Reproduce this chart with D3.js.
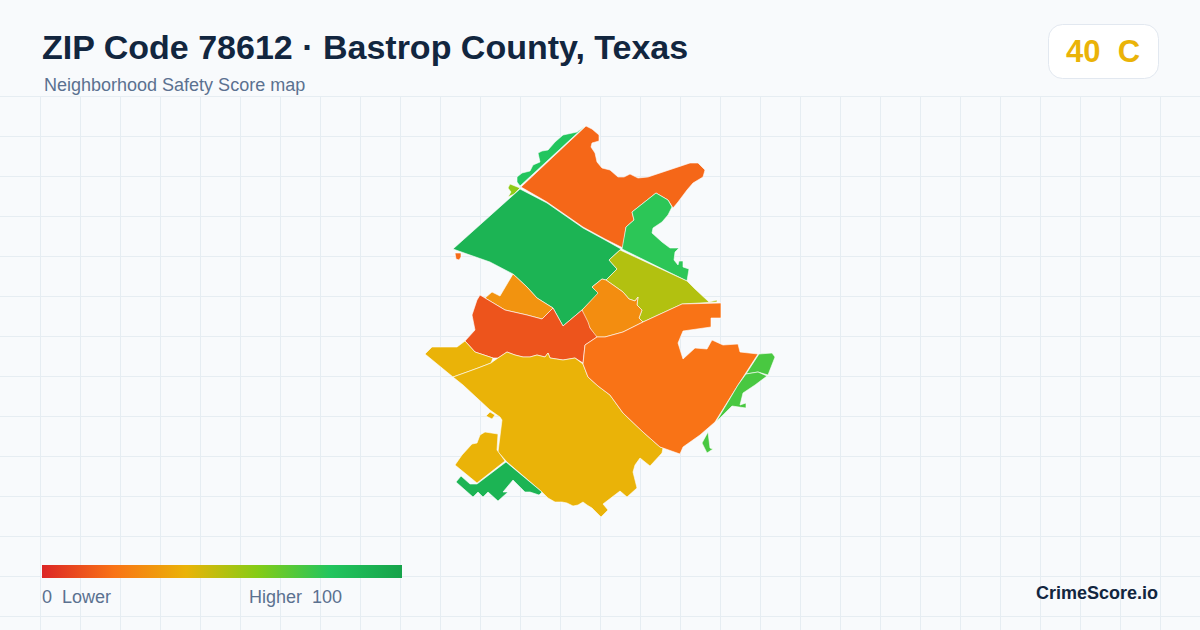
<!DOCTYPE html>
<html>
<head>
<meta charset="utf-8">
<title>ZIP Code 78612</title>
<script src="https://cdn.jsdelivr.net/npm/d3@7"></script>
<style>
  html, body { margin: 0; padding: 0; background: #f8fafc; }
  svg { display: block; font-family: "Liberation Sans", Arial, sans-serif; }
  text { white-space: pre; }
</style>
</head>
<body>
<div id="chart"></div>
<script>
// Labels
const titleText = "ZIP Code 78612 · Bastrop County, Texas";
const subtitleText = "Neighborhood Safety Score map";
const scoreText = "40  C";
const brandText = "CrimeScore.io";
const legendLow = "0  Lower";
const legendHigh = "Higher  100";

// Color ramp for the score
const rampStops = [0, 20, 40, 60, 80, 100];
const rampColors = ["#dc2626", "#f97316", "#eab308", "#84cc16", "#22c55e", "#16a34a"];

// Neighborhood scores, same order as the outlines below
const neighborhoodScores = [17, 80, 58, 90, 78, 51, 28, 30, 12, 40, 40, 40, 40, 90, 20, 72, 72, 72, 18];

const neOrange = [[586,126],[592,129],[599,135],[599,141],[592,143],[591,147],[595,153],[597,162],[602,168],[610,170],[618,177],[624,177],[630,174],[638,178],[648,177],[660,173],[690,163],[698,163],[705,170],[703,177],[693,183],[687,190],[678,202],[673,208],[668,200],[656,193],[632,212],[634,220],[626,227],[623,248],[605,239],[583,227],[547,202],[521,187]];
const northStrip = [[585,126],[520,186],[517,182],[517,177],[522,173],[530,171],[533,165],[540,162],[538,153],[542,151],[548,150],[555,142],[563,135],[577,132]];
const limeBit = [[510,184],[520,188],[514,194],[508,197],[511,192],[508,188]];
const bigGreen = [[520,189],[547,203],[583,228],[605,240],[621,249],[609,260],[617,269],[606,280],[602,279],[592,287],[599,293],[582,310],[563,326],[553,308],[537,298],[527,287],[513,274],[490,262],[470,255],[453,249]];
const neGreen = [[656,193],[668,200],[672,207],[668,215],[662,222],[653,228],[652,233],[662,242],[670,248],[679,248],[675,252],[674,260],[678,265],[679,261],[683,261],[683,267],[689,269],[687,281],[622,249],[626,227],[634,220],[632,212]];
const olive = [[620,250],[687,281],[695,289],[709,302],[717,300],[717,302],[682,304],[643,322],[639,318],[642,310],[637,305],[638,297],[635,301],[629,299],[623,292],[606,280],[617,269],[609,260]];
const centerAmber = [[602,279],[606,280],[623,292],[629,299],[635,301],[638,297],[637,305],[642,310],[639,318],[643,322],[623,332],[605,337],[595,337],[590,328],[583,320],[582,310],[598,293],[592,287]];
const northAmber = [[513,274],[527,287],[537,298],[553,308],[542,319],[527,315],[505,310],[485,298],[492,292],[500,296]];
const centralRed = [[480,295],[485,298],[505,310],[527,315],[542,319],[553,308],[563,326],[582,310],[588,322],[590,328],[597,337],[585,345],[583,363],[575,358],[563,360],[550,358],[548,353],[545,357],[537,355],[530,357],[523,357],[515,355],[507,352],[498,358],[493,358],[475,352],[465,341],[475,330],[472,315],[477,300]];
const westAmber = [[465,341],[475,352],[493,358],[491,363],[478,368],[467,372],[453,377],[425,354],[432,347],[457,347]];
const southAmber = [[453,377],[467,372],[478,368],[491,363],[498,358],[507,352],[515,355],[523,357],[530,357],[537,355],[545,357],[548,353],[550,358],[563,360],[575,358],[583,364],[588,377],[598,386],[610,395],[623,413],[643,432],[660,447],[663,448],[662,453],[650,466],[640,458],[635,465],[633,472],[637,488],[627,497],[620,491],[603,504],[608,510],[601,517],[592,508],[587,505],[583,502],[578,505],[573,506],[567,503],[562,502],[555,502],[548,498],[542,492],[507,462],[498,452],[502,420],[500,417],[490,410],[463,385]];
const amberBit = [[490,412],[495,415],[492,419],[486,416]];
const swAmber = [[480,435],[485,432],[498,434],[497,450],[505,461],[477,483],[455,465],[462,455],[472,444],[477,443]];
const swGreen = [[506,462],[542,492],[539,495],[530,492],[525,492],[513,480],[503,492],[508,492],[498,501],[488,492],[483,497],[478,492],[473,497],[456,482],[461,476],[470,484],[477,484]];
const seOrange = [[682,304],[721,303],[721,318],[711,318],[711,327],[683,331],[678,343],[683,359],[695,348],[707,349],[712,340],[723,345],[738,344],[740,352],[758,354],[738,385],[715,422],[700,435],[683,447],[680,454],[663,448],[660,447],[643,432],[623,413],[610,395],[598,386],[588,377],[583,364],[585,345],[597,337],[605,337],[623,332],[643,322]];
const eastGreenTop = [[759,354],[772,353],[775,357],[768,375],[758,372],[746,374]];
const eastGreenMid = [[746,374],[758,372],[767,376],[755,385],[743,393],[740,405],[746,403],[746,408],[732,406],[716,422],[738,385]];
const eastGreenLow = [[708,432],[710,448],[713,449],[707,453],[702,443]];
const orangeDot = [[455,253],[461,253],[461,257],[459,260],[456,259]];

const outlines = [neOrange, northStrip, limeBit, bigGreen, neGreen, olive, centerAmber, northAmber, centralRed,
    westAmber, southAmber, amberBit, swAmber, swGreen, seOrange, eastGreenTop, eastGreenMid, eastGreenLow, orangeDot];

const width = 1200;
const height = 630;

const svg = d3.select("#chart").append("svg")
    .attr("width", width)
    .attr("height", height)
    .attr("viewBox", [0, 0, width, height]);

svg.append("rect")
    .attr("width", width)
    .attr("height", height)
    .attr("fill", "#f8fafc");

// Background grid
const gridTop = 96;
const grid = svg.append("g")
    .attr("stroke", "#e6edf2")
    .attr("stroke-width", 1);

grid.selectAll("line.v")
  .data(d3.range(40, width, 40))
  .join("line")
    .attr("class", "v")
    .attr("x1", d => d + 0.5)
    .attr("x2", d => d + 0.5)
    .attr("y1", gridTop)
    .attr("y2", height);

grid.selectAll("line.h")
  .data(d3.range(gridTop, height, 40))
  .join("line")
    .attr("class", "h")
    .attr("x1", 0)
    .attr("x2", width)
    .attr("y1", d => d + 0.5)
    .attr("y2", d => d + 0.5);

// Map
const color = d3.scaleLinear()
    .domain(rampStops)
    .range(rampColors)
    .interpolate(d3.interpolateRgb);

const xMap = d3.scaleLinear().domain([0, 1200]).range([0, width]);
const yMap = d3.scaleLinear().domain([0, 630]).range([0, height]);

const outlinePath = d3.line()
    .x(d => xMap(d[0]))
    .y(d => yMap(d[1]))
    .curve(d3.curveLinearClosed);

svg.append("g")
  .selectAll("path")
  .data(outlines)
  .join("path")
    .attr("d", outlinePath)
    .attr("fill", (d, i) => color(neighborhoodScores[i]))
    .attr("stroke", "#ffffff")
    .attr("stroke-width", 0.6)
    .attr("stroke-linejoin", "round");

// Header
svg.append("text")
    .attr("x", 42)
    .attr("y", 59)
    .attr("font-size", 34)
    .attr("font-weight", 700)
    .attr("fill", "#12263f")
    .text(titleText);

svg.append("text")
    .attr("x", 44)
    .attr("y", 91)
    .attr("font-size", 18)
    .attr("fill", "#5b7190")
    .text(subtitleText);

// Score badge
svg.append("rect")
    .attr("x", 1048.5)
    .attr("y", 24.5)
    .attr("width", 110)
    .attr("height", 54)
    .attr("rx", 14)
    .attr("fill", "#ffffff")
    .attr("stroke", "#e2e8f0");

svg.append("text")
    .attr("x", 1103)
    .attr("y", 62)
    .attr("text-anchor", "middle")
    .attr("font-size", 31)
    .attr("font-weight", 700)
    .attr("fill", color(40))
    .text(scoreText);

// Legend
const xLegend = d3.scaleLinear().domain([0, 100]).range([42, 402]);

const gradient = svg.append("defs").append("linearGradient")
    .attr("id", "ramp")
    .attr("x1", "0%")
    .attr("x2", "100%");

gradient.selectAll("stop")
  .data(rampStops)
  .join("stop")
    .attr("offset", d => d + "%")
    .attr("stop-color", d => color(d));

svg.append("rect")
    .attr("x", xLegend(0))
    .attr("y", 565)
    .attr("width", xLegend(100) - xLegend(0))
    .attr("height", 13)
    .attr("fill", "url(#ramp)");

svg.append("text")
    .attr("x", 42)
    .attr("y", 603)
    .attr("font-size", 18)
    .attr("fill", "#5b7190")
    .text(legendLow);

svg.append("text")
    .attr("x", 342)
    .attr("y", 603)
    .attr("text-anchor", "end")
    .attr("font-size", 18)
    .attr("fill", "#5b7190")
    .text(legendHigh);

svg.append("text")
    .attr("x", 1158)
    .attr("y", 599)
    .attr("text-anchor", "end")
    .attr("font-size", 18)
    .attr("font-weight", 700)
    .attr("fill", "#12263f")
    .text(brandText);
</script>
</body>
</html>
